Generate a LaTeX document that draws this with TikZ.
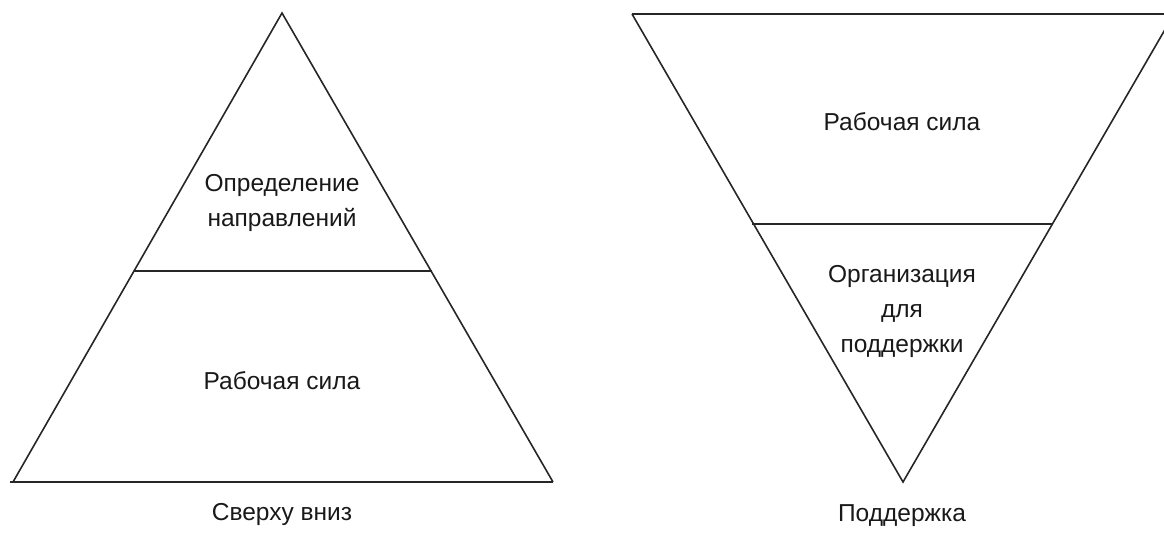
\documentclass[tikz,border=0pt]{standalone}
\usepackage{fontspec}
\setmainfont{Liberation Sans}
\begin{document}
\begin{tikzpicture}[x=1pt,y=-1pt,
  edge/.style={line width=1.6pt,black!85,line join=miter},
  lbl/.style={font=\fontsize{24.5}{35}\selectfont,align=center,inner sep=0pt,text=black!90}]
\useasboundingbox (0,0) rectangle (1164,533);
\clip (0,0) rectangle (1164,533);
% left pyramid
\coordinate (LA) at (282,13);
\coordinate (LL) at (13,482);
\coordinate (LR) at (553,482);
\coordinate (LBs) at (10,482);
\coordinate (LD1) at (133.5,271);
\coordinate (LD2) at (431.5,271);
\draw[edge] (LL) -- (LA) -- (LR);
\draw[edge,line width=2.2pt] (LBs) -- (LR);
\draw[edge] (LD1) -- (LD2);
\node[lbl] (l1) at (282,203) {Определение\\направлений};
\node[lbl] (l2) at (282,381) {Рабочая сила};
\node[lbl] (l3) at (282,514) {Сверху вниз};
% right inverted pyramid
\coordinate (RA) at (903,482);
\coordinate (RL) at (632,14);
\coordinate (RR) at (1174,14);
\coordinate (RD1) at (752,224);
\coordinate (RD2) at (1053,224);
\draw[edge] (RL) -- (RA) -- (RR);
\draw[edge] (RL) -- (RR);
\draw[edge] (RD1) -- (RD2);
\node[lbl] (r1) at (902,122) {Рабочая сила};
\node[lbl] (r2) at (902,311) {Организация\\для\\поддержки};
\node[lbl] (r3) at (902,516) {Поддержка};
\end{tikzpicture}
\end{document}
